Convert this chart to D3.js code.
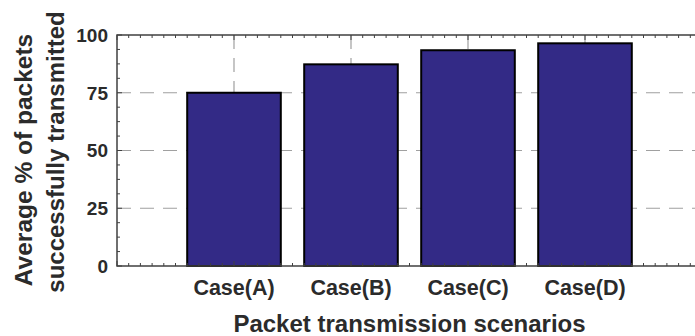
<!DOCTYPE html>
<html>
<head>
<meta charset="utf-8">
<script src="https://cdn.jsdelivr.net/npm/d3@7"></script>
<style>
  body { margin: 0; background: #fff; }
  svg { display: block; font-family: "Liberation Sans", Arial, sans-serif; }
  .grid line { stroke: #a0a0a0; stroke-width: 1.2; stroke-dasharray: 14 9; }
  .axis-line { stroke: #404040; stroke-width: 1.5; fill: none; }
  .tick-mark { stroke: #404040; stroke-width: 1; }
  .tick-label { fill: #2b2b2b; font-weight: bold; }
  .title { fill: #2b2b2b; font-weight: bold; }
</style>
</head>
<body>
<div id="wrapper"></div>
<script>
// data
const categories = ["Case(A)", "Case(B)", "Case(C)", "Case(D)"]
const packetsSent = [75, 87.3, 93.4, 96.4]
const yTicks = [0, 25, 50, 75, 100]

function drawChart() {
  let dimensions = {
    width: 695,
    height: 336,
    margin: { top: 35, right: -7, bottom: 70, left: 117 },
  }
  dimensions.boundedWidth = dimensions.width - dimensions.margin.left - dimensions.margin.right
  dimensions.boundedHeight = dimensions.height - dimensions.margin.top - dimensions.margin.bottom

  const svg = d3.select("#wrapper").append("svg")
      .attr("width", dimensions.width)
      .attr("height", dimensions.height)

  const bounds = svg.append("g")
      .attr("transform", `translate(${dimensions.margin.left},${dimensions.margin.top})`)

  // scales: categories sit at 1..4 on a 0..5 axis
  const xScale = d3.scaleLinear()
      .domain([0, categories.length + 1])
      .range([0, dimensions.boundedWidth])
  const yScale = d3.scaleLinear()
      .domain([0, 100])
      .range([dimensions.boundedHeight, 0])

  const barWidth = xScale(0.8) - xScale(0)

  // grid
  const grid = bounds.append("g").attr("class", "grid")
  grid.selectAll(".hgrid")
    .data(yTicks.filter(d => d > 0 && d < 100))
    .enter().append("line")
      .attr("x1", 0).attr("x2", dimensions.boundedWidth)
      .attr("y1", d => yScale(d)).attr("y2", d => yScale(d))
  grid.selectAll(".vgrid")
    .data(categories.map((d, i) => i + 1))
    .enter().append("line")
      .attr("x1", d => xScale(d)).attr("x2", d => xScale(d))
      .attr("y1", 0).attr("y2", dimensions.boundedHeight)

  // bars
  bounds.selectAll(".bar")
    .data(packetsSent)
    .enter().append("rect")
      .attr("class", "bar")
      .attr("x", (d, i) => xScale(i + 1) - barWidth / 2)
      .attr("y", d => yScale(d))
      .attr("width", barWidth)
      .attr("height", d => dimensions.boundedHeight - yScale(d))
      .attr("fill", "#332a86")
      .attr("stroke", "#000")
      .attr("stroke-width", 2)

  // axes frame
  bounds.append("path")
      .attr("class", "axis-line")
      .attr("d", `M${dimensions.boundedWidth},0H0V${dimensions.boundedHeight}H${dimensions.boundedWidth}`)

  // minor + major ticks (inward)
  const isMajor = d => Math.round(d * 10) % 10 == 0
  const xMinor = d3.range(0, (categories.length + 1) * 10 + 1).map(d => d / 10)
  const ticks = bounds.append("g")
  ticks.selectAll(".xb")
    .data(xMinor)
    .enter().append("line")
      .attr("class", "tick-mark")
      .attr("x1", d => xScale(d)).attr("x2", d => xScale(d))
      .attr("y1", dimensions.boundedHeight)
      .attr("y2", d => dimensions.boundedHeight - (isMajor(d) ? 5 : 3))
  ticks.selectAll(".xt")
    .data(xMinor)
    .enter().append("line")
      .attr("class", "tick-mark")
      .attr("x1", d => xScale(d)).attr("x2", d => xScale(d))
      .attr("y1", 0)
      .attr("y2", d => (isMajor(d) ? 5 : 3))

  const yMinor = d3.range(0, 17).map(d => d * 6.25)
  ticks.selectAll(".yl")
    .data(yMinor)
    .enter().append("line")
      .attr("class", "tick-mark")
      .attr("y1", d => yScale(d)).attr("y2", d => yScale(d))
      .attr("x1", 0)
      .attr("x2", d => (d % 25 == 0 ? 5 : 3))

  // tick labels
  bounds.selectAll(".ylabel")
    .data(yTicks)
    .enter().append("text")
      .attr("class", "tick-label")
      .attr("x", -9)
      .attr("y", d => yScale(d))
      .attr("dy", "0.36em")
      .attr("text-anchor", "end")
      .style("font-size", "19px")
      .text(d => d)

  bounds.selectAll(".xlabel")
    .data(categories)
    .enter().append("text")
      .attr("class", "tick-label")
      .attr("x", (d, i) => xScale(i + 1))
      .attr("y", dimensions.boundedHeight + 29)
      .attr("text-anchor", "middle")
      .style("font-size", "21.5px")
      .text(d => d)

  // titles
  bounds.append("text")
      .attr("class", "title")
      .attr("x", dimensions.boundedWidth / 2)
      .attr("y", dimensions.boundedHeight + 66)
      .attr("text-anchor", "middle")
      .style("font-size", "24px")
      .text("Packet transmission scenarios")

  const yTitle = svg.append("g")
      .attr("transform", "rotate(-90)")
  yTitle.append("text")
      .attr("class", "title")
      .attr("x", -160).attr("y", 32)
      .attr("text-anchor", "middle")
      .style("font-size", "24.5px")
      .text("Average % of packets")
  yTitle.append("text")
      .attr("class", "title")
      .attr("x", -152).attr("y", 64)
      .attr("text-anchor", "middle")
      .style("font-size", "24px")
      .text("successfully transmitted")
}
drawChart()
</script>
</body>
</html>
